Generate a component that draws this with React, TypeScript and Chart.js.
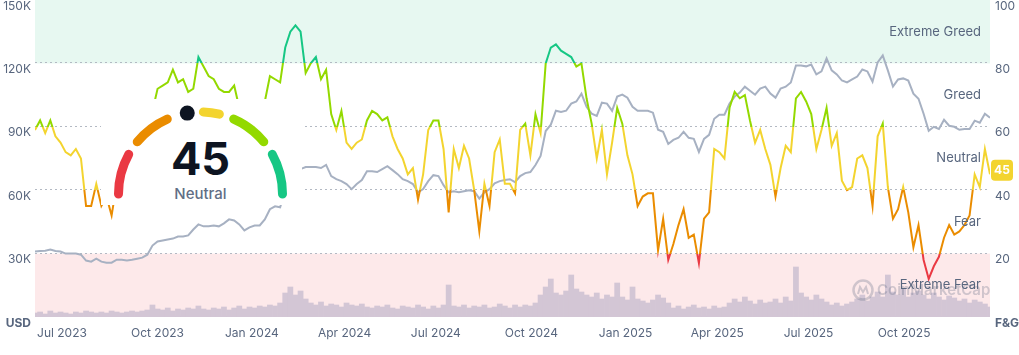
import React, { useEffect, useRef } from 'react';
import { Chart, registerables } from 'chart.js';

Chart.register(...registerables);

// One sample every 5 days, first sample on 29 Jun 2023
const SAMPLE_START = Date.UTC(2023, 5, 29);
const SAMPLE_STEP_DAYS = 5;
const ORIGIN = Date.UTC(2023, 6, 1);
const DAY = 86400000;

const fearGreedIndex = [
  59, 62, 58, 62, 57, 55, 52, 51, 53, 50,
  35, 35, 42, 35, 38, 32, 42, 44, 45, 50,
  49, 45, 55, 65, 72, 73, 74, 78, 74, 75,
  71, 72, 82, 79, 76, 75, 72, 71, 71, 73,
  66, 65, 64, 62, 66, 68, 76, 75, 74, 85,
  90, 92, 90, 77, 80, 82, 75, 78, 64, 59,
  65, 55, 53, 55, 56, 62, 65, 64, 62, 63,
  57, 53, 50, 45, 47, 37, 45, 59, 62, 62,
  53, 33, 53, 47, 54, 50, 40, 27, 42, 35,
  52, 56, 42, 42, 39, 59, 61, 51, 64, 58,
  80, 85, 86, 84, 83, 82, 79, 80, 69, 61,
  50, 59, 45, 55, 66, 61, 51, 45, 35, 38,
  39, 39, 21, 31, 18, 23, 29, 34, 25, 26,
  17, 31, 33, 53, 52, 50, 66, 71, 69, 70,
  62, 55, 59, 53, 48, 38, 47, 54, 52, 69,
  71, 68, 64, 53, 59, 66, 54, 58, 43, 40,
  41, 50, 51, 47, 35, 57, 61, 41, 31, 34,
  41, 33, 22, 29, 18, 12, 16, 19, 25, 29,
  26, 27, 29, 32, 45, 41, 53, 45,
];

const btcPriceK = [
  31.0, 31.2, 31.4, 31.9, 31.2, 31.0, 30.0, 30.0, 30.0, 29.5,
  26.7, 26.2, 27.6, 26.2, 25.7, 25.7, 27.1, 27.1, 26.7, 27.1,
  27.6, 28.1, 29.5, 33.8, 35.7, 36.2, 36.7, 37.1, 38.1, 38.1,
  38.6, 41.4, 43.8, 42.9, 42.9, 43.3, 42.9, 44.3, 46.2, 45.7,
  43.8, 41.0, 42.4, 43.3, 43.3, 46.2, 51.0, 52.4, 51.9, 60.0,
  66.0, 70.0, 70.0, 71.0, 71.0, 71.0, 70.5, 72.0, 66.7, 65.2,
  64.3, 62.9, 60.5, 62.9, 64.8, 69.0, 69.0, 68.6, 70.0, 71.4,
  69.5, 67.6, 65.2, 64.3, 62.9, 59.0, 60.5, 64.3, 67.1, 66.7,
  62.4, 59.0, 59.5, 59.0, 59.5, 60.0, 59.5, 56.0, 59.0, 60.5,
  63.3, 64.3, 64.8, 65.2, 63.8, 66.7, 68.1, 68.6, 71.9, 76.2,
  88.0, 91.0, 97.6, 97.0, 97.6, 101.0, 102.0, 105.7, 99.5, 96.2,
  95.2, 101.4, 101.0, 97.6, 104.3, 105.2, 103.8, 99.5, 97.6, 97.6,
  97.6, 96.7, 88.6, 87.6, 81.9, 83.8, 84.8, 87.6, 84.8, 84.3,
  78.1, 84.3, 86.2, 93.8, 95.7, 95.7, 101.0, 104.3, 106.2, 109.0,
  107.1, 105.2, 108.1, 109.0, 105.7, 103.8, 108.1, 109.0, 111.0, 119.0,
  119.0, 118.6, 119.5, 114.8, 116.2, 122.4, 116.7, 114.8, 111.9, 111.0,
  112.4, 113.8, 117.1, 116.2, 111.4, 120.5, 123.8, 116.7, 109.0, 112.4,
  112.9, 111.9, 105.7, 103.3, 96.2, 88.1, 90.0, 89.0, 93.3, 90.5,
  90.0, 88.6, 89.0, 89.0, 92.9, 91.9, 96.2, 94.3,
];

const volumeBillions = [
  8, 10, 6, 12, 8, 10, 8, 6, 10, 8,
  12, 10, 8, 10, 8, 12, 10, 8, 10, 12, 10, 12, 14,
  24,
  16, 14, 18, 12, 16, 14, 18, 16,
  22,
  16, 14, 18, 16, 20, 14, 18, 22, 16, 20, 18, 22,
  20, 24, 22, 28,
  48, 60, 44, 52, 36,
  28, 24, 30, 22, 26, 24, 20, 28, 24, 22, 26, 20,
  18, 22, 20, 24, 18, 16, 22, 20, 18, 24, 20, 16, 22, 18, 24,
  64,
  22, 20, 24, 18, 22, 20, 24, 18, 20, 26, 22, 18, 24,
  20, 24, 22, 28,
  44, 60, 76, 48, 44, 52, 84, 56, 50, 44,
  40, 48, 36, 44, 40, 68, 40, 34, 60, 36,
  32, 28, 34, 44, 38, 28,
  18, 22, 16, 20, 24, 18, 20, 16, 22, 18, 20,
  28, 36, 30, 40, 32, 26, 34, 28,
  30, 36, 28, 40, 32,
  100,
  48,
  40, 34, 44, 36, 30,
  24, 28, 22, 26, 30,
  36, 44, 32, 40, 50,
  40,
  84,
  50, 44, 56, 40, 48, 52, 44, 36, 48, 40, 34, 42, 38, 32, 36, 28, 34, 30, 26, 20,
];

const xTickLabels = ['Jul 2023', 'Oct 2023', 'Jan 2024', 'Apr 2024', 'Jul 2024', 'Oct 2024', 'Jan 2025', 'Apr 2025', 'Jul 2025', 'Oct 2025'];
const priceTicksK = [0, 30, 60, 90, 120, 150];
const fgTicks = [0, 20, 40, 60, 80, 100];
const bandNames = ['Extreme Fear', 'Fear', 'Neutral', 'Greed', 'Extreme Greed'];
const bandLimits = [0, 20, 40, 60, 80, 100];
const bandColors = ['#ea3943', '#ea8c00', '#f3d42f', '#93d900', '#16c784'];
const bandFills = ['#fde9ea', null, null, null, '#e7f8f1'];

const MONTHS = ['Jan', 'Feb', 'Mar', 'Apr', 'May', 'Jun', 'Jul', 'Aug', 'Sep', 'Oct', 'Nov', 'Dec'];
const sampleDay = (i: number) => (SAMPLE_START - ORIGIN) / DAY + i * SAMPLE_STEP_DAYS;
const tickDays = xTickLabels.map((l) => {
  const [m, y] = l.split(' ');
  return (Date.UTC(Number(y), MONTHS.indexOf(m), 1) - ORIGIN) / DAY;
});

const CURRENT_VALUE = fearGreedIndex[fearGreedIndex.length - 1];
const currentBand = Math.min(4, Math.floor(CURRENT_VALUE / 20));
const CURRENT_LABEL = bandNames[currentBand];

const TEXT = '#58667e';
const FONT = 'Inter, "Noto Sans", sans-serif';

function fgGradient(c: any) {
  const chart = c.chart;
  const area = chart.chartArea;
  const y = chart.scales && chart.scales.yFG;
  if (!area || !y) return bandColors[2];
  const y0 = y.getPixelForValue(0);
  const y1 = y.getPixelForValue(100);
  const g = chart.ctx.createLinearGradient(0, y0, 0, y1);
  for (let k = 0; k < 5; k++) {
    g.addColorStop(bandLimits[k] / 100, bandColors[k]);
    g.addColorStop(bandLimits[k + 1] / 100, bandColors[k]);
  }
  return g;
}

const decorPlugin = {
  id: 'fgDecor',
  beforeDatasetsDraw(chart: any) {
    const { ctx, chartArea: a, scales } = chart;
    const y = scales.yFG;
    ctx.save();
    for (let k = 0; k < 5; k++) {
      const f = bandFills[k];
      if (!f) continue;
      const top = y.getPixelForValue(bandLimits[k + 1]);
      const bot = y.getPixelForValue(bandLimits[k]);
      ctx.fillStyle = f;
      ctx.fillRect(a.left, top, a.right - a.left, bot - top);
    }
    ctx.strokeStyle = '#b3b9c3';
    ctx.lineWidth = 1;
    ctx.setLineDash([2, 3]);
    for (const v of [0, 20, 40, 60, 80]) {
      const py = Math.round(y.getPixelForValue(v)) - 0.5;
      ctx.beginPath();
      ctx.moveTo(a.left, py);
      ctx.lineTo(a.right, py);
      ctx.stroke();
    }
    ctx.restore();
  },
  afterDatasetsDraw(chart: any) {
    const { ctx, chartArea: a, scales } = chart;
    const y = scales.yFG;
    ctx.save();
    // watermark
    const wy = y.getPixelForValue(8.5);
    ctx.strokeStyle = 'rgba(88,102,126,0.28)';
    ctx.fillStyle = 'rgba(88,102,126,0.28)';
    ctx.lineWidth = 2.5;
    ctx.beginPath();
    ctx.arc(a.right - 127, wy, 9.5, 0, Math.PI * 2);
    ctx.stroke();
    ctx.lineWidth = 2;
    ctx.beginPath();
    ctx.moveTo(a.right - 132, wy + 4);
    ctx.lineTo(a.right - 130, wy - 3);
    ctx.lineTo(a.right - 127, wy + 2);
    ctx.lineTo(a.right - 124, wy - 3);
    ctx.lineTo(a.right - 122, wy + 4);
    ctx.stroke();
    ctx.font = `600 15px ${FONT}`;
    ctx.textAlign = 'left';
    ctx.textBaseline = 'middle';
    ctx.fillText('CoinMarketCap', a.right - 113, wy);
    // band labels
    ctx.fillStyle = TEXT;
    ctx.font = `13px ${FONT}`;
    ctx.textAlign = 'right';
    for (let k = 0; k < 5; k++) {
      const cy = y.getPixelForValue((bandLimits[k] + bandLimits[k + 1]) / 2);
      ctx.fillText(bandNames[k], a.right - 9, cy);
    }
    ctx.restore();
  },
  afterDraw(chart: any) {
    const { ctx, chartArea: a, scales } = chart;
    const y = scales.yFG;
    const cy = y.getPixelForValue(CURRENT_VALUE) - 4;
    const x = a.right + 1;
    const w = 22;
    const h = 21;
    ctx.save();
    ctx.fillStyle = bandColors[currentBand];
    ctx.beginPath();
    (ctx as any).roundRect(x, cy - h / 2, w, h, 4);
    ctx.fill();
    ctx.fillStyle = '#ffffff';
    ctx.font = `bold 12px ${FONT}`;
    ctx.textAlign = 'center';
    ctx.textBaseline = 'middle';
    ctx.fillText(String(CURRENT_VALUE), x + w / 2, cy + 0.5);
    ctx.restore();
  },
};

function Gauge() {
  const cx = 200.5;
  const cy = 194;
  const r = 82;
  const toAngle = (v: number) => -93 + (186 * v) / 100;
  const pt = (deg: number) => {
    const t = (deg * Math.PI) / 180;
    return `${(cx + r * Math.sin(t)).toFixed(2)} ${(cy - r * Math.cos(t)).toFixed(2)}`;
  };
  const ind = toAngle(CURRENT_VALUE);
  const gap = 5.3;
  const cut = 11.3;
  const arcs: { d: string; color: string }[] = [];
  for (let k = 0; k < 5; k++) {
    const a = k === 0 ? -90 : toAngle(bandLimits[k]) + gap;
    const b = k === 4 ? 90 : toAngle(bandLimits[k + 1]) - gap;
    const pieces: [number, number][] = [];
    const c0 = ind - cut;
    const c1 = ind + cut;
    if (c1 <= a || c0 >= b) pieces.push([a, b]);
    else {
      if (c0 > a) pieces.push([a, c0]);
      if (c1 < b) pieces.push([c1, b]);
    }
    for (const [p, q] of pieces) {
      if (q - p < 0.5) continue;
      arcs.push({ d: `M ${pt(p)} A ${r} ${r} 0 0 1 ${pt(q)}`, color: bandColors[k] });
    }
  }
  const t = (ind * Math.PI) / 180;
  const dx = cx + r * Math.sin(t);
  const dy = cy - r * Math.cos(t);
  return (
    <svg
      width={1019}
      height={355}
      style={{ position: 'absolute', left: 0, top: 0, pointerEvents: 'none' }}
    >
      <rect x={101} y={99} width={201} height={106} fill="#ffffff" />
      {arcs.map((s, i) => (
        <path key={i} d={s.d} stroke={s.color} strokeWidth={9} strokeLinecap="round" fill="none" />
      ))}
      <circle cx={dx} cy={dy} r={7.5} fill="#0d1421" />
      <text x={cx} y={175} textAnchor="middle" fontFamily={FONT} fontWeight={700} fontSize={45} fill="#0d1421">
        {CURRENT_VALUE}
      </text>
      <text x={cx} y={199} textAnchor="middle" fontFamily={FONT} fontWeight={500} fontSize={15} fill="#616e85">
        {CURRENT_LABEL}
      </text>
    </svg>
  );
}

export default function App() {
  const canvasRef = useRef<HTMLCanvasElement | null>(null);

  useEffect(() => {
    document.body.style.margin = '0';
    const canvas = canvasRef.current;
    if (!canvas) return;
    const fgData = fearGreedIndex.map((v, i) => ({ x: sampleDay(i), y: v }));
    const priceData = btcPriceK.map((v, i) => ({ x: sampleDay(i), y: v }));
    const volData = volumeBillions.map((v, i) => ({ x: sampleDay(i), y: v }));
    const minX = sampleDay(0);
    const maxX = sampleDay(fearGreedIndex.length - 1);
    const tickFont = (c: any) => ({
      family: FONT,
      size: 12,
      weight: c.tick && c.tick.value === 0 ? 'bold' : 'normal',
    });
    const noPad = (s: any) => {
      s.paddingTop = 0;
      s.paddingBottom = 0;
      s.paddingLeft = 0;
      s.paddingRight = 0;
    };

    const chart = new Chart(canvas, {
      type: 'line',
      data: {
        datasets: [
          {
            type: 'line',
            label: 'Fear & Greed Index',
            data: fgData,
            yAxisID: 'yFG',
            borderColor: fgGradient as any,
            borderWidth: 2,
            pointRadius: 0,
            tension: 0,
            order: 1,
          },
          {
            type: 'line',
            label: 'Bitcoin Price',
            data: priceData,
            yAxisID: 'yPrice',
            borderColor: '#a7b1c2',
            borderWidth: 2,
            pointRadius: 0,
            tension: 0,
            order: 2,
          },
          {
            type: 'bar',
            label: 'Volume',
            data: volData,
            yAxisID: 'yVol',
            backgroundColor: '#d3c6d5',
            borderWidth: 0,
            barPercentage: 1,
            categoryPercentage: 1,
            order: 3,
          } as any,
        ],
      },
      options: {
        responsive: false,
        animation: false,
        events: [],
        layout: { padding: 0 },
        plugins: { legend: { display: false }, tooltip: { enabled: false } },
        scales: {
          x: {
            type: 'linear',
            min: minX,
            max: maxX,
            offset: false,
            grid: { display: false, drawTicks: false },
            border: { display: false },
            afterBuildTicks: (s: any) => {
              s.ticks = tickDays.map((v) => ({ value: v }));
            },
            afterFit: (s: any) => {
              s.height = 38;
              noPad(s);
            },
            ticks: {
              autoSkip: false,
              maxRotation: 0,
              minRotation: 0,
              align: 'start',
              padding: 9,
              color: TEXT,
              font: { family: FONT, size: 12 },
              callback: (_v: any, i: number) => xTickLabels[i],
            },
          },
          yPrice: {
            type: 'linear',
            position: 'left',
            min: 0,
            max: 150,
            grid: { display: false, drawTicks: false },
            border: { display: false },
            afterBuildTicks: (s: any) => {
              s.ticks = priceTicksK.map((v) => ({ value: v }));
            },
            afterFit: (s: any) => {
              s.width = 35;
              noPad(s);
            },
            ticks: {
              padding: 4,
              labelOffset: 6,
              color: TEXT,
              font: tickFont as any,
              callback: (v: any) => (v === 0 ? 'USD' : `${v}K`),
            },
          },
          yFG: {
            type: 'linear',
            position: 'right',
            min: 0,
            max: 100,
            grid: { display: false, drawTicks: false },
            border: { display: false },
            afterBuildTicks: (s: any) => {
              s.ticks = fgTicks.map((v) => ({ value: v }));
            },
            afterFit: (s: any) => {
              s.width = 29;
              noPad(s);
            },
            ticks: {
              padding: 5,
              labelOffset: 6,
              color: TEXT,
              font: tickFont as any,
              callback: (v: any) => (v === 0 ? 'F&G' : String(v)),
            },
          },
          yVol: {
            type: 'linear',
            display: false,
            min: 0,
            max: 634,
          },
        },
      } as any,
      plugins: [decorPlugin],
    });
    return () => chart.destroy();
  }, []);

  return (
    <div style={{ position: 'relative', width: 1019, height: 355, background: '#ffffff' }}>
      <canvas ref={canvasRef} width={1019} height={355} style={{ display: 'block', width: 1019, height: 355 }} />
      <Gauge />
    </div>
  );
}
